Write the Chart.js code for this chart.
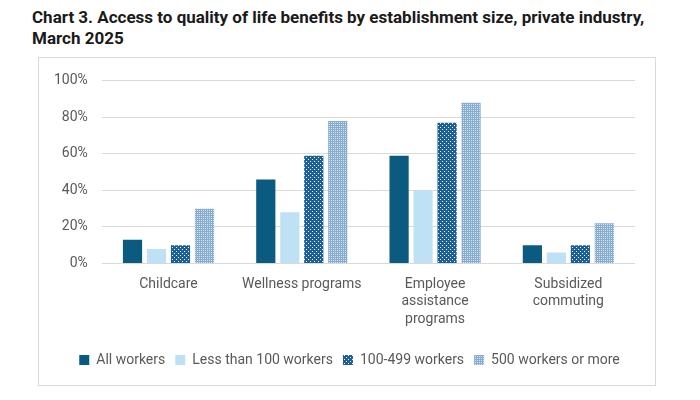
<!DOCTYPE html>
<html>
<head>
<meta charset="utf-8">
<script src="https://cdn.jsdelivr.net/npm/chart.js@4"></script>
<style>
  body { margin: 0; background: #fff; font-family: Roboto, Arial, sans-serif; }
  #title {
    position: absolute; left: 32px; top: 7px; width: 630px;
    font: bold 17px Roboto, Arial, sans-serif; color: #1a1a1a; line-height: 21px;
  }
  #frame {
    position: absolute; left: 38px; top: 57px; width: 616px; height: 327px;
    border: 1px solid #d9d9d9; background: #fff;
  }
</style>
</head>
<body>
<div id="title">Chart 3. Access to quality of life benefits by establishment size, private industry, March 2025</div>
<div id="frame"><canvas id="chart"></canvas></div>
<script>
const categories = ["Childcare", "Wellness programs", ["Employee", "assistance", "programs"], ["Subsidized", "commuting"]];
const seriesNames = ["All workers", "Less than 100 workers", "100-499 workers", "500 workers or more"];
const allWorkers = [13, 46, 59, 10];
const lessThan100 = [8, 28, 40, 6];
const from100to499 = [10, 59, 77, 10];
const over500 = [30, 78, 88, 22];
const yTicks = [0, 20, 40, 60, 80, 100];

// small repeating fills for the patterned series
function makePattern(bg, drawDots) {
  const c = document.createElement("canvas");
  c.width = 4; c.height = 4;
  const ctx = c.getContext("2d");
  ctx.fillStyle = bg;
  ctx.fillRect(0, 0, 4, 4);
  ctx.fillStyle = "#ffffff";
  drawDots(ctx);
  return ctx.createPattern(c, "repeat");
}
const dotted = makePattern("#1b5f99", (ctx) => {
  ctx.fillRect(1, 1, 1, 1);
  ctx.fillRect(3, 3, 1, 1);
});
const checked = makePattern("#86acd0", (ctx) => {
  ctx.globalAlpha = 0.65;
  ctx.fillRect(0, 0, 1, 1);
  ctx.fillRect(2, 2, 1, 1);
  ctx.fillRect(2, 0, 1, 1);
  ctx.fillRect(0, 2, 1, 1);
});

const grey = "#595959";
const font = { family: "Roboto, Arial, sans-serif", size: 14, lineHeight: 1.25 };

// the legend sits a little right of the plot centre in the original
const nudgeLegend = {
  id: "nudgeLegend",
  afterLayout(chart) {
    chart.legend.left += 12;
    chart.legend.right += 12;
  },
};

new Chart(document.getElementById("chart"), {
  type: "bar",
  data: {
    labels: categories,
    datasets: [
      { label: seriesNames[0], data: allWorkers, backgroundColor: "#0b5a80" },
      { label: seriesNames[1], data: lessThan100, backgroundColor: "#bfe1f5" },
      { label: seriesNames[2], data: from100to499, backgroundColor: dotted },
      { label: seriesNames[3], data: over500, backgroundColor: checked },
    ],
  },
  options: {
    responsive: true,
    maintainAspectRatio: false,
    animation: false,
    datasets: { bar: { categoryPercentage: 0.72, barPercentage: 0.8 } },
    layout: { padding: { left: 1, right: 20, top: 7, bottom: 8 } },
    scales: {
      x: {
        grid: { display: false },
        border: { display: false },
        ticks: { color: grey, font: font, maxRotation: 0, autoSkip: false, padding: 4 },
        afterFit: (axis) => { axis.height += 11; },
      },
      y: {
        min: 0,
        max: 100,
        afterBuildTicks: (axis) => { axis.ticks = yTicks.map((v) => ({ value: v })); },
        grid: { color: "#d9d9d9", drawTicks: false },
        border: { display: false },
        ticks: { color: grey, font: font, padding: 14, callback: (v) => v + "%" },
      },
    },
    plugins: {
      legend: {
        position: "bottom",
        labels: { color: grey, font: font, boxWidth: 10, boxHeight: 10, padding: 10 },
      },
      tooltip: { enabled: false },
    },
  },
  plugins: [nudgeLegend],
});
</script>
</body>
</html>
